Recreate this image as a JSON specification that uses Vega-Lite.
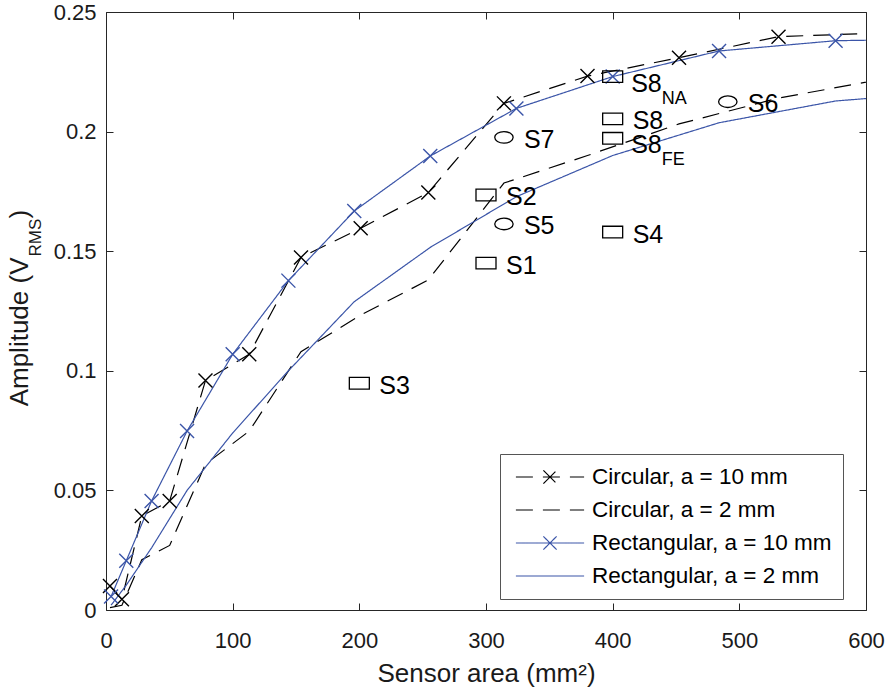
{
  "$schema": "https://vega.github.io/schema/vega-lite/v6.json",
  "autosize": {"type": "none"},
  "padding": {"left": 106, "top": 12, "right": 24, "bottom": 84},
  "width": 760,
  "height": 598,
  "background": "white",
  "config": {
    "font": "Liberation Sans",
    "view": {"stroke": null},
    "axis": {"grid": false, "domainColor": "#262626", "tickColor": "#262626", "labelColor": "#1a1a1a", "titleColor": "#1a1a1a", "titleFontWeight": "normal", "labelFont": "Liberation Sans", "titleFont": "Liberation Sans"}
  },
  "datasets": {
    "curves": [
      {"series": "Circular, a = 10 mm", "area": 3.14, "amp": 0.0100},
      {"series": "Circular, a = 10 mm", "area": 12.57, "amp": 0.0045},
      {"series": "Circular, a = 10 mm", "area": 28.27, "amp": 0.0393},
      {"series": "Circular, a = 10 mm", "area": 50.27, "amp": 0.0456},
      {"series": "Circular, a = 10 mm", "area": 78.54, "amp": 0.0959},
      {"series": "Circular, a = 10 mm", "area": 113.1, "amp": 0.1069},
      {"series": "Circular, a = 10 mm", "area": 153.94, "amp": 0.1474},
      {"series": "Circular, a = 10 mm", "area": 201.06, "amp": 0.1596},
      {"series": "Circular, a = 10 mm", "area": 254.47, "amp": 0.1745},
      {"series": "Circular, a = 10 mm", "area": 314.16, "amp": 0.2118},
      {"series": "Circular, a = 10 mm", "area": 380.13, "amp": 0.2232},
      {"series": "Circular, a = 10 mm", "area": 452.39, "amp": 0.2309},
      {"series": "Circular, a = 10 mm", "area": 530.93, "amp": 0.2397},
      {"series": "Circular, a = 10 mm", "area": 615.75, "amp": 0.2413},
      {"series": "Circular, a = 2 mm", "area": 3.14, "amp": 0.001},
      {"series": "Circular, a = 2 mm", "area": 12.57, "amp": 0.002},
      {"series": "Circular, a = 2 mm", "area": 28.27, "amp": 0.021},
      {"series": "Circular, a = 2 mm", "area": 50.27, "amp": 0.027},
      {"series": "Circular, a = 2 mm", "area": 78.54, "amp": 0.061},
      {"series": "Circular, a = 2 mm", "area": 113.1, "amp": 0.0748},
      {"series": "Circular, a = 2 mm", "area": 153.94, "amp": 0.108},
      {"series": "Circular, a = 2 mm", "area": 201.06, "amp": 0.1233},
      {"series": "Circular, a = 2 mm", "area": 254.47, "amp": 0.138},
      {"series": "Circular, a = 2 mm", "area": 314.16, "amp": 0.1785},
      {"series": "Circular, a = 2 mm", "area": 380.13, "amp": 0.190},
      {"series": "Circular, a = 2 mm", "area": 452.39, "amp": 0.2032},
      {"series": "Circular, a = 2 mm", "area": 530.93, "amp": 0.214},
      {"series": "Circular, a = 2 mm", "area": 615.75, "amp": 0.2222},
      {"series": "Rectangular, a = 10 mm", "area": 4, "amp": 0.0056},
      {"series": "Rectangular, a = 10 mm", "area": 16, "amp": 0.0206},
      {"series": "Rectangular, a = 10 mm", "area": 36, "amp": 0.0456},
      {"series": "Rectangular, a = 10 mm", "area": 64, "amp": 0.0748},
      {"series": "Rectangular, a = 10 mm", "area": 100, "amp": 0.1069},
      {"series": "Rectangular, a = 10 mm", "area": 144, "amp": 0.1377},
      {"series": "Rectangular, a = 10 mm", "area": 196, "amp": 0.1668},
      {"series": "Rectangular, a = 10 mm", "area": 256, "amp": 0.1898},
      {"series": "Rectangular, a = 10 mm", "area": 324, "amp": 0.2097},
      {"series": "Rectangular, a = 10 mm", "area": 400, "amp": 0.2230},
      {"series": "Rectangular, a = 10 mm", "area": 484, "amp": 0.2337},
      {"series": "Rectangular, a = 10 mm", "area": 576, "amp": 0.2380},
      {"series": "Rectangular, a = 10 mm", "area": 676, "amp": 0.2388},
      {"series": "Rectangular, a = 2 mm", "area": 4, "amp": 0.002},
      {"series": "Rectangular, a = 2 mm", "area": 16, "amp": 0.0104},
      {"series": "Rectangular, a = 2 mm", "area": 36, "amp": 0.026},
      {"series": "Rectangular, a = 2 mm", "area": 64, "amp": 0.050},
      {"series": "Rectangular, a = 2 mm", "area": 100, "amp": 0.074},
      {"series": "Rectangular, a = 2 mm", "area": 144, "amp": 0.1000},
      {"series": "Rectangular, a = 2 mm", "area": 196, "amp": 0.1289},
      {"series": "Rectangular, a = 2 mm", "area": 256, "amp": 0.1516},
      {"series": "Rectangular, a = 2 mm", "area": 324, "amp": 0.1728},
      {"series": "Rectangular, a = 2 mm", "area": 400, "amp": 0.190},
      {"series": "Rectangular, a = 2 mm", "area": 484, "amp": 0.2037},
      {"series": "Rectangular, a = 2 mm", "area": 576, "amp": 0.2128},
      {"series": "Rectangular, a = 2 mm", "area": 676, "amp": 0.217}
    ],
    "sensors": [
      {"label": "S1", "sub": "", "kind": "rect", "area": 300, "amp": 0.145},
      {"label": "S2", "sub": "", "kind": "rect", "area": 300, "amp": 0.1735},
      {"label": "S3", "sub": "", "kind": "rect", "area": 200, "amp": 0.0948},
      {"label": "S4", "sub": "", "kind": "rect", "area": 400, "amp": 0.158},
      {"label": "S5", "sub": "", "kind": "ellipse", "area": 314.16, "amp": 0.1614},
      {"label": "S6", "sub": "", "kind": "ellipse", "area": 490.9, "amp": 0.2125},
      {"label": "S7", "sub": "", "kind": "ellipse", "area": 314.16, "amp": 0.1976},
      {"label": "S8", "sub": "", "kind": "rect", "area": 400, "amp": 0.2053},
      {"label": "S8", "sub": "FE", "kind": "rect", "area": 400, "amp": 0.1972},
      {"label": "S8", "sub": "NA", "kind": "rect", "area": 400, "amp": 0.223}
    ]
  },
  "resolve": {"axis": {"x": "independent", "y": "independent"}},
  "layer": [
    {
      "data": {"name": "curves"},
      "mark": {"type": "line", "clip": true, "strokeWidth": 1.2},
      "encoding": {
        "x": {"field": "area", "type": "quantitative", "scale": {"domain": [0, 600], "nice": false, "zero": false},
          "axis": {"orient": "bottom", "values": [0, 100, 200, 300, 400, 500, 600], "tickSize": -7, "labelPadding": 27, "labelFontSize": 22, "labelFlush": false, "labelOverlap": false, "title": "Sensor area (mm²)", "titleFontSize": 26, "titlePadding": 9}},
        "y": {"field": "amp", "type": "quantitative", "scale": {"domain": [0, 0.25], "nice": false, "zero": false},
          "axis": {"orient": "left", "values": [0, 0.05, 0.1, 0.15, 0.2, 0.25], "format": "~g", "tickSize": -7, "labelPadding": 17, "labelFontSize": 22, "labelFlush": false, "labelOverlap": false, "title": "Amplitude (V", "titleFontSize": 26, "titleAngle": -90, "titleAlign": "right", "titleBaseline": "alphabetic", "titleX": -79, "titleY": 245}},
        "color": {"field": "series", "type": "nominal",
          "scale": {"domain": ["Circular, a = 10 mm", "Circular, a = 2 mm", "Rectangular, a = 10 mm", "Rectangular, a = 2 mm"], "range": ["#000000", "#000000", "#3b55a8", "#3b55a8"]},
          "legend": {"orient": "none", "legendX": 394, "legendY": 442, "title": null, "labelFont": "Liberation Sans", "labelFontSize": 22.5, "labelColor": "#000000", "labelLimit": 0, "symbolType": "stroke", "symbolSize": 484, "symbolStrokeWidth": 1.2, "labelOffset": 30, "rowPadding": 9, "padding": 11, "symbolOffset": 27, "strokeColor": "#555555", "fillColor": "#ffffff",
            "encode": {"symbols": {"update": {"shape": {"signal": "test(/10 mm/, datum.value) ? 'M-3.1,0H3.1M-0.6,-0.6L0.6,0.6M-0.6,0.6L0.6,-0.6' : 'M-3.1,0H3.1'"}}}}}},
        "strokeDash": {"field": "series", "type": "nominal",
          "scale": {"domain": ["Circular, a = 10 mm", "Circular, a = 2 mm", "Rectangular, a = 10 mm", "Rectangular, a = 2 mm"], "range": [[17, 10], [17, 10], [1, 0], [1, 0]]}}
      }
    },
    {
      "data": {"name": "curves"},
      "transform": [
        {"filter": {"field": "series", "oneOf": ["Circular, a = 10 mm", "Rectangular, a = 10 mm"]}},
        {"filter": {"field": "area", "lte": 600}}
      ],
      "mark": {"type": "point", "shape": "M-1,-1L1,1M-1,1L1,-1", "filled": false, "size": 196, "strokeWidth": 1.4, "opacity": 1},
      "encoding": {
        "x": {"field": "area", "type": "quantitative", "axis": {"orient": "top", "values": [0, 100, 200, 300, 400, 500, 600], "labels": false, "tickSize": -7, "title": null}},
        "y": {"field": "amp", "type": "quantitative", "axis": {"orient": "right", "values": [0, 0.05, 0.1, 0.15, 0.2, 0.25], "labels": false, "tickSize": -7, "title": null}},
        "color": {"field": "series", "type": "nominal"}
      }
    },
    {
      "data": {"name": "sensors"},
      "mark": {"type": "point", "filled": false, "size": 400, "strokeWidth": 1.3, "color": "#000000", "opacity": 1},
      "encoding": {
        "x": {"field": "area", "type": "quantitative", "axis": null},
        "y": {"field": "amp", "type": "quantitative", "axis": {"orient": "left", "labels": false, "ticks": false, "domain": false, "title": "RMS", "titleFontSize": 17, "titleAngle": -90, "titleAlign": "left", "titleBaseline": "alphabetic", "titleX": -66, "titleY": 244}},
        "shape": {"field": "kind", "type": "nominal", "legend": null,
          "scale": {"domain": ["rect", "ellipse"], "range": ["M-1,-0.58H1V0.58H-1Z", "M-0.92,0A0.92,0.58,0,1,1,0.92,0A0.92,0.58,0,1,1,-0.92,0Z"]}}
      }
    },
    {
      "data": {"name": "sensors"},
      "transform": [{"filter": "datum.sub == ''"}],
      "mark": {"type": "text", "align": "left", "baseline": "alphabetic", "dx": 20, "dy": 10.5, "fontSize": 25, "color": "#000000"},
      "encoding": {
        "x": {"field": "area", "type": "quantitative", "axis": null},
        "y": {"field": "amp", "type": "quantitative", "axis": {"orient": "left", "labels": false, "ticks": false, "domain": false, "title": ")", "titleFontSize": 26, "titleAngle": -90, "titleAlign": "left", "titleBaseline": "alphabetic", "titleX": -79, "titleY": 206}},
        "text": {"field": "label"}
      }
    },
    {
      "data": {"name": "sensors"},
      "transform": [{"filter": "datum.sub != ''"}],
      "mark": {"type": "text", "align": "left", "baseline": "alphabetic", "dx": 18.5, "dy": 15, "fontSize": 25, "color": "#000000"},
      "encoding": {
        "x": {"field": "area", "type": "quantitative", "axis": null},
        "y": {"field": "amp", "type": "quantitative", "axis": null},
        "text": {"field": "label"}
      }
    },
    {
      "data": {"name": "sensors"},
      "transform": [{"filter": "datum.sub != ''"}],
      "mark": {"type": "text", "align": "left", "baseline": "alphabetic", "dx": 49, "dy": 27, "fontSize": 18, "color": "#000000"},
      "encoding": {
        "x": {"field": "area", "type": "quantitative", "axis": null},
        "y": {"field": "amp", "type": "quantitative", "axis": null},
        "text": {"field": "sub"}
      }
    }
  ]
}
